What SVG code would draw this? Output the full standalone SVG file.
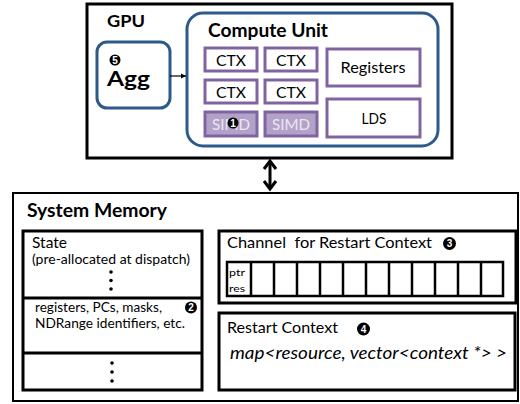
<svg xmlns="http://www.w3.org/2000/svg" width="520" height="404" viewBox="0 0 520 404">
<style>
text{font-family:Lato,"Liberation Sans",sans-serif;fill:#000}
.b{font-weight:bold}
.blue{fill:#fff;stroke:#2e5a8a;stroke-width:3}
.pur{fill:#fff;stroke:#8064a2;stroke-width:3}
.simd{fill:#b3a2c7;stroke:#8064a2;stroke-width:3}
.blk{fill:#fff;stroke:#000;stroke-width:3}
.ctx{font-size:15px;text-anchor:middle}
.num{fill:#fff;font-size:10px;font-weight:bold;text-anchor:middle;font-family:"Liberation Sans",sans-serif}
</style>
<defs>
<marker id="ah" markerWidth="6" markerHeight="6" refX="5" refY="3" orient="auto" markerUnits="userSpaceOnUse">
<path d="M0,0.5 L5,3 L0,5.5 Z" fill="#000"/>
</marker>
</defs>
<g id="gpu">
<rect x="87" y="4" width="365" height="154" fill="#fff" stroke="#000" stroke-width="3"/>
<text x="107" y="27" class="b" font-size="17" textLength="38" lengthAdjust="spacingAndGlyphs">GPU</text>
</g>
<g id="agg">
<rect x="97" y="42" width="73" height="66" rx="10" class="blue"/>
<circle cx="115" cy="60" r="5.5" fill="#000"/>
<text x="115" y="63.5" class="num" font-size="9">5</text>
<text x="107" y="86" class="b" font-size="20" textLength="43" lengthAdjust="spacingAndGlyphs">Agg</text>
</g>
<g id="cu">
<rect x="187" y="13" width="251" height="133" rx="16" class="blue"/>
<text x="208" y="37" class="b" font-size="18" textLength="120" lengthAdjust="spacingAndGlyphs">Compute Unit</text>
</g>
<g id="ctx1"><rect x="205" y="48" width="52" height="23" class="pur"/><text x="231" y="66" class="ctx" textLength="30" lengthAdjust="spacingAndGlyphs">CTX</text></g>
<g id="ctx2"><rect x="265" y="48" width="52" height="23" class="pur"/><text x="291" y="66" class="ctx" textLength="30" lengthAdjust="spacingAndGlyphs">CTX</text></g>
<g id="ctx3"><rect x="205" y="80" width="52" height="23" class="pur"/><text x="231" y="98" class="ctx" textLength="30" lengthAdjust="spacingAndGlyphs">CTX</text></g>
<g id="ctx4"><rect x="265" y="80" width="52" height="23" class="pur"/><text x="291" y="98" class="ctx" textLength="30" lengthAdjust="spacingAndGlyphs">CTX</text></g>
<g id="simd1"><rect x="205" y="112" width="52" height="24" class="simd"/><text x="231" y="130" class="ctx" style="fill:#ece6f4" textLength="38" lengthAdjust="spacingAndGlyphs">SIMD</text>
<circle cx="233" cy="123" r="5.5" fill="#000"/><text x="233" y="126.5" class="num" font-size="9">1</text></g>
<g id="simd2"><rect x="265" y="112" width="52" height="24" class="simd"/><text x="291" y="130" class="ctx" style="fill:#ece6f4" textLength="38" lengthAdjust="spacingAndGlyphs">SIMD</text></g>
<g id="registers"><rect x="327" y="49" width="93" height="37" class="pur"/><text x="373" y="73" class="ctx" textLength="65" lengthAdjust="spacingAndGlyphs">Registers</text></g>
<g id="lds"><rect x="327" y="99" width="93" height="38" class="pur"/><text x="374" y="124" class="ctx" textLength="25" lengthAdjust="spacingAndGlyphs">LDS</text></g>
<g id="sysmem">
<rect x="13" y="193" width="505" height="208" fill="#fff" stroke="#000" stroke-width="2"/>
<text x="27" y="217" class="b" font-size="18" textLength="140" lengthAdjust="spacingAndGlyphs">System Memory</text>
</g>
<g id="state">
<rect x="23" y="231" width="179" height="159" class="blk"/>
<line x1="23" y1="298" x2="202" y2="298" stroke="#000" stroke-width="3"/>
<line x1="23" y1="353" x2="202" y2="353" stroke="#000" stroke-width="3"/>
<text x="32" y="248" font-size="16" textLength="35" lengthAdjust="spacingAndGlyphs">State</text>
<text x="32" y="264" font-size="13.5" textLength="158" lengthAdjust="spacingAndGlyphs">(pre-allocated at dispatch)</text>
<circle cx="111" cy="272" r="1.8"/><circle cx="111" cy="280.5" r="1.8"/><circle cx="111" cy="289" r="1.8"/>
<text x="35" y="312" font-size="13.5" textLength="127" lengthAdjust="spacingAndGlyphs">registers, PCs, masks,</text>
<text x="35" y="328" font-size="13.5" textLength="150" lengthAdjust="spacingAndGlyphs">NDRange identifiers, etc.</text>
<circle cx="191" cy="307.5" r="6" fill="#000"/><text x="191" y="311" class="num">2</text>
<circle cx="112" cy="363" r="1.8"/><circle cx="112" cy="372" r="1.8"/><circle cx="112" cy="381" r="1.8"/>
</g>
<g id="channel">
<rect x="219" y="231" width="297" height="72" class="blk"/>
<text x="227" y="248" font-size="16" xml:space="preserve" textLength="205" lengthAdjust="spacingAndGlyphs">Channel  for Restart Context</text>
<circle cx="449.5" cy="243.5" r="6.5" fill="#000"/><text x="449.5" y="247" class="num">3</text>
<rect x="227" y="262" width="276" height="34" fill="#fff" stroke="#000" stroke-width="2.5"/>
<path d="M251,262V296M274,262V296M297,262V296M320,262V296M343,262V296M366,262V296M389,262V296M412,262V296M435,262V296M458,262V296M481,262V296" stroke="#000" stroke-width="2.5"/>
<text x="229" y="276" font-size="10" textLength="16" lengthAdjust="spacingAndGlyphs">ptr</text>
<text x="229" y="292" font-size="10" textLength="16" lengthAdjust="spacingAndGlyphs">res</text>
</g>
<g id="restart">
<rect x="219" y="313" width="296" height="77" class="blk"/>
<text x="227" y="333" font-size="16" textLength="111" lengthAdjust="spacingAndGlyphs">Restart Context</text>
<circle cx="363.5" cy="329" r="6.5" fill="#000"/><text x="363.5" y="332.5" class="num">4</text>
<text x="230" y="359" font-size="17" font-style="italic" textLength="277" lengthAdjust="spacingAndGlyphs">map&lt;resource, vector&lt;context *&gt; &gt;</text>
</g>
<g id="connectors">
<line x1="170" y1="76" x2="186" y2="76" stroke="#000" stroke-width="1.2" marker-end="url(#ah)"/>
<line x1="270" y1="162" x2="270" y2="188" stroke="#000" stroke-width="3"/>
<path d="M264,169 L270,161 L276,169" fill="none" stroke="#000" stroke-width="3"/>
<path d="M264,181 L270,189 L276,181" fill="none" stroke="#000" stroke-width="3"/>
</g>
</svg>
